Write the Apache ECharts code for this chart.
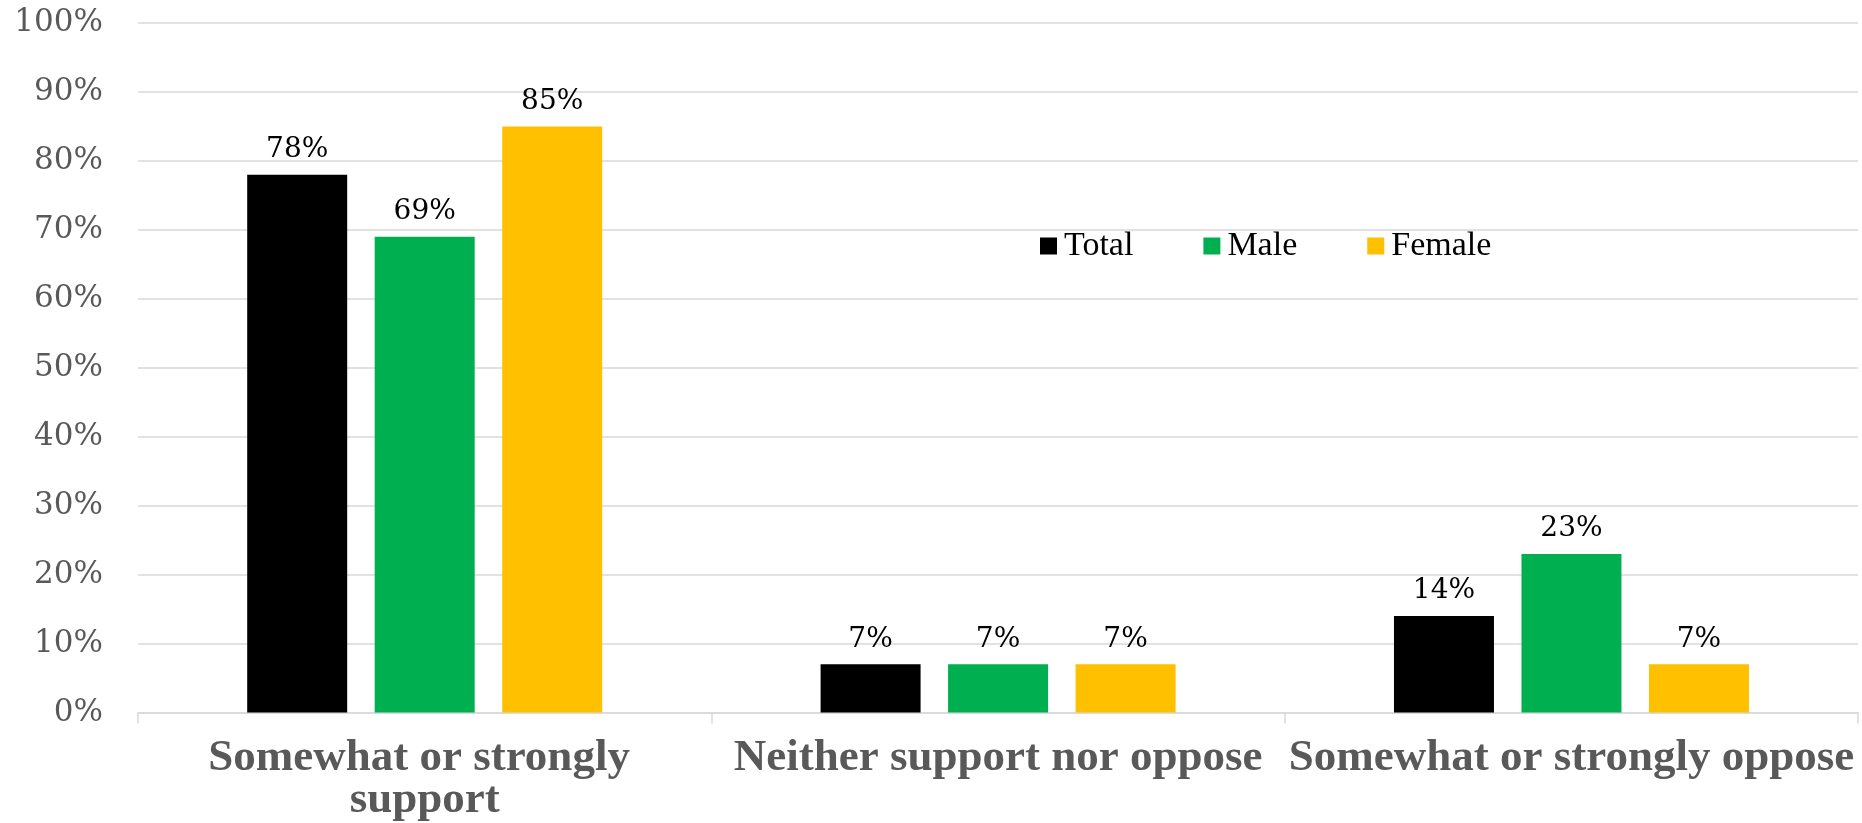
<!DOCTYPE html>
<html>
<head>
<meta charset="utf-8">
<script src="https://cdn.jsdelivr.net/npm/echarts@6/dist/echarts.min.js"></script>
<style>
html,body{margin:0;padding:0;background:#fff;}
#chart{width:1862px;height:823px;}
</style>
</head>
<body>
<div id="chart"></div>
<script>
const categories = ['Somewhat or strongly support', 'Neither support nor oppose', 'Somewhat or strongly oppose'];
const seriesNames = ['Total', 'Male', 'Female'];
const totalValues = [78, 7, 14];
const maleValues = [69, 7, 23];
const femaleValues = [85, 7, 7];
const colors = ['#000000', '#00B050', '#FFC000'];

const chart = echarts.init(document.getElementById('chart'), null, {renderer: 'canvas'});
const valuesList = [totalValues, maleValues, femaleValues];
const series = seriesNames.map((name, i) => ({
  name: name,
  type: 'bar',
  data: valuesList[i],
  barWidth: 100,
  barGap: '27.5%',
  itemStyle: {color: colors[i]},
  label: {
    show: true,
    position: 'top',
    distance: 11,
    formatter: '{c}%',
    color: '#000',
    fontFamily: 'DejaVu Serif',
    fontSize: 28
  }
}));

chart.setOption({
  animation: false,
  backgroundColor: '#fff',
  color: colors,
  grid: {left: 138, right: 1, top: 23, bottom: 107, containLabel: false},
  legend: {
    data: seriesNames,
    left: 1040,
    top: 229,
    padding: 0,
    icon: 'rect',
    itemWidth: 17,
    itemHeight: 17,
    itemGap: 70,
    textStyle: {fontFamily: 'Liberation Serif', fontSize: 34, color: '#000', padding: [0,0,0,2]}
  },
  xAxis: {
    type: 'category',
    data: categories,
    axisLine: {lineStyle: {color: '#d9d9d9', width: 1.5}},
    axisTick: {show: true, length: 11, lineStyle: {color: '#d9d9d9', width: 1.5}},
    axisLabel: {
      interval: 0,
      margin: 25,
      fontFamily: 'Liberation Serif',
      fontWeight: 'bold',
      fontSize: 45,
      lineHeight: 42,
      color: '#595959',
      width: 576,
      overflow: 'break'
    }
  },
  yAxis: {
    type: 'value',
    min: 0,
    max: 100,
    interval: 10,
    axisLine: {show: false},
    axisTick: {show: false},
    splitLine: {lineStyle: {color: '#d9d9d9', width: 1.5}},
    axisLabel: {
      formatter: '{value}%',
      margin: 35,
      fontFamily: 'DejaVu Serif',
      fontSize: 31,
      color: '#595959'
    }
  },
  series: series
});
</script>
</body>
</html>
